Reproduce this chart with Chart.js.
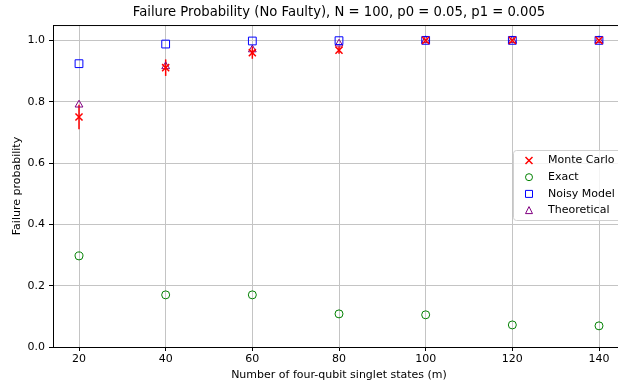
<!DOCTYPE html>
<html>
<head>
<meta charset="utf-8">
<script src="https://cdn.jsdelivr.net/npm/chart.js@4/dist/chart.umd.min.js"></script>
<style>
  html, body { margin: 0; padding: 0; background: #fff; overflow: hidden; }
  #wrap { width: 640px; height: 388px; }
</style>
</head>
<body>
<div id="wrap"><canvas id="grafico" width="640" height="388"></canvas></div>
<script>
// dados
const mValues = [20, 40, 60, 80, 100, 120, 140]
const monteCarlo = [0.750, 0.911, 0.960, 0.968, 1.0, 1.0, 1.0]
const mcErr = [0.040, 0.027, 0.020, 0.012, 0, 0, 0]
const exact = [0.297, 0.170, 0.170, 0.108, 0.105, 0.072, 0.069]
const noisyModel = [0.924, 0.988, 0.998, 0.999, 1.0, 1.0, 1.0]
const theoretical = [0.790, 0.915, 0.970, 0.989, 1.0, 1.0, 1.0]

const xTicks = [20, 40, 60, 80, 100, 120, 140]
const yTicks = [0.0, 0.2, 0.4, 0.6, 0.8, 1.0]

const FONT = "'DejaVu Sans', sans-serif"

const pts = arr => mValues.map((m, i) => ({ x: m, y: arr[i] }))

// 📏 barras de erro + moldura + legenda
const extras = {
    id: "extras",
    beforeDatasetsDraw(chart) {
        const { ctx, scales: { x, y } } = chart
        ctx.save()
        ctx.strokeStyle = "red"
        ctx.lineWidth = 1.5
        mValues.forEach((m, i) => {
            if (!mcErr[i]) return
            const px = x.getPixelForValue(m)
            ctx.beginPath()
            ctx.moveTo(px, y.getPixelForValue(monteCarlo[i] - mcErr[i]))
            ctx.lineTo(px, y.getPixelForValue(monteCarlo[i] + mcErr[i]))
            ctx.stroke()
        })
        ctx.restore()
    },
    afterDraw(chart) {
        const { ctx, chartArea: a } = chart
        ctx.save()
        ctx.strokeStyle = "#000"
        ctx.lineWidth = 1
        ctx.beginPath()
        ctx.moveTo(a.left, a.top + 0.5)
        ctx.lineTo(a.right, a.top + 0.5)
        ctx.moveTo(a.right - 0.5, a.top)
        ctx.lineTo(a.right - 0.5, a.bottom)
        ctx.stroke()

        // legenda
        const bx = 513.5, by = 150.5, bw = 130, bh = 70
        ctx.fillStyle = "rgba(255,255,255,0.8)"
        ctx.strokeStyle = "#d0d0d0"
        ctx.beginPath()
        ctx.roundRect(bx, by, bw, bh, 3)
        ctx.fill()
        ctx.stroke()
        ctx.font = "11px " + FONT
        ctx.textBaseline = "middle"
        chart.data.datasets.forEach((ds, k) => {
            const cy = 160.5 + k * 16.7
            const cx = 529
            ctx.strokeStyle = ds.borderColor
            ctx.lineWidth = ds.borderWidth
            ctx.beginPath()
            if (ds.pointStyle === "crossRot") {
                ctx.moveTo(cx - 3.5, cy - 3.5); ctx.lineTo(cx + 3.5, cy + 3.5)
                ctx.moveTo(cx - 3.5, cy + 3.5); ctx.lineTo(cx + 3.5, cy - 3.5)
            } else if (ds.pointStyle === "circle") {
                ctx.arc(cx, cy, 3.5, 0, Math.PI * 2)
            } else if (ds.pointStyle === "rect") {
                ctx.rect(cx - 3.5, cy - 3.5, 7, 7)
            } else {
                ctx.moveTo(cx, cy - 4); ctx.lineTo(cx + 3.5, cy + 3); ctx.lineTo(cx - 3.5, cy + 3); ctx.closePath()
            }
            ctx.stroke()
            ctx.fillStyle = "#000"
            ctx.fillText(ds.label, 548, cy)
        })
        ctx.restore()
    }
}

new Chart(document.getElementById("grafico"), {
    type: "scatter",
    data: {
        datasets: [
            { label: "Monte Carlo", data: pts(monteCarlo), pointStyle: "crossRot", pointRadius: 5,
              borderColor: "red", backgroundColor: "transparent", borderWidth: 1.5 },
            { label: "Exact", data: pts(exact), pointStyle: "circle", pointRadius: 4,
              borderColor: "green", backgroundColor: "transparent", borderWidth: 1 },
            { label: "Noisy Model", data: pts(noisyModel), pointStyle: "rect", pointRadius: 5.5,
              borderColor: "blue", backgroundColor: "transparent", borderWidth: 1 },
            { label: "Theoretical", data: pts(theoretical), pointStyle: "triangle", pointRadius: 4.5,
              borderColor: "purple", backgroundColor: "transparent", borderWidth: 1 }
        ]
    },
    options: {
        responsive: false,
        animation: false,
        layout: { padding: { left: 0, right: 15, top: 0, bottom: 0 } },
        plugins: {
            legend: { display: false },
            tooltip: { enabled: false },
            title: {
                display: true,
                fullSize: false,
                text: "Failure Probability (No Faulty), N = 100, p0 = 0.05, p1 = 0.005",
                color: "#000",
                font: { family: FONT, size: 13.2, weight: "normal", lineHeight: 1.2 },
                padding: { top: 5, bottom: 4.2 }
            }
        },
        scales: {
            x: {
                type: "linear", min: 14, max: 146,
                afterBuildTicks: s => { s.ticks = xTicks.map(v => ({ value: v })) },
                afterFit: s => { s.height = 41 },
                grid: { color: "#c4c4c4", lineWidth: 1, tickColor: "#000", tickLength: 4 },
                border: { display: true, color: "#000", width: 1 },
                ticks: { color: "#000", font: { family: FONT, size: 11 }, padding: 2, maxRotation: 0 },
                title: { display: true, text: "Number of four-qubit singlet states (m)", color: "#000",
                         font: { family: FONT, size: 11 }, padding: { top: 2, bottom: 6 } }
            },
            y: {
                type: "linear", min: 0, max: 1.05,
                afterBuildTicks: s => { s.ticks = yTicks.map(v => ({ value: v })) },
                afterFit: s => { s.width = 53 },
                grid: { color: "#c4c4c4", lineWidth: 1, tickColor: "#000", tickLength: 4 },
                border: { display: true, color: "#000", width: 1 },
                ticks: { color: "#000", font: { family: FONT, size: 11 }, padding: 4,
                         callback: v => v.toFixed(1) },
                title: { display: true, text: "Failure probability", color: "#000",
                         font: { family: FONT, size: 11 }, padding: { top: 11, bottom: 4 } }
            }
        }
    },
    plugins: [extras]
})
</script>
</body>
</html>
